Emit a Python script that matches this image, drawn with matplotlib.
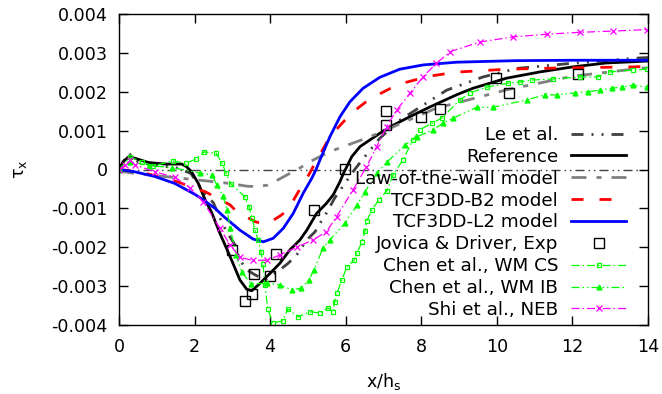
import numpy as np
import matplotlib
matplotlib.use("Agg")
import matplotlib.pyplot as plt

plt.rcParams["font.family"] = ["DejaVu Sans"]
plt.rcParams["axes.unicode_minus"] = False
plt.rcParams["lines.scale_dashes"] = False

SCALE = 1e-3  # stress values below are listed in units of 1e-3

# Le et al.
le_x = [0, 0.25, 0.5, 1.0, 1.5, 1.9, 2.23, 2.5, 2.67, 2.85, 3.07, 3.2, 3.38, 3.6, 3.86, 4.26,
        4.48, 4.7, 4.97, 5.19, 5.33, 5.49, 5.71, 5.95, 6.19, 6.43, 6.9, 7.4, 8.17, 8.67, 9.63,
        10.53, 11.85, 13.78, 14.0]
le_y = [0, 0.42, 0.2, 0.1, 0.05, -0.1, -0.57, -0.86, -1.25, -1.6, -1.94, -2.33, -2.58, -2.71,
        -2.84, -2.58, -2.41, -2.2, -1.81, -1.6, -1.37, -1.12, -0.73, -0.4, -0.06, 0.24, 0.8,
        1.25, 1.73, 2.04, 2.38, 2.6, 2.72, 2.87, 2.88]

# Reference
ref_x = [0, 0.11, 0.26, 0.42, 0.78, 1.22, 1.66, 1.79, 1.92, 2.1, 2.28, 2.45, 2.67, 2.94, 3.2,
         3.38, 3.51, 3.73, 4.0, 4.26, 4.52, 4.79, 4.97, 5.23, 5.49, 5.67, 5.85, 5.94, 6.16, 6.38,
         6.64, 6.9, 7.26, 7.7, 8.23, 8.93, 9.37, 10.26, 11.14, 12.01, 12.9, 14.0]
ref_y = [0, 0.2, 0.33, 0.29, 0.18, 0.14, 0.14, 0.07, -0.06, -0.36, -0.78, -1.1, -1.64, -2.24,
         -2.84, -3.08, -3.12, -2.93, -2.67, -2.41, -2.07, -1.81, -1.56, -1.13, -0.87, -0.65,
         -0.31, -0.1, 0.33, 0.59, 0.76, 0.93, 1.14, 1.36, 1.61, 1.92, 2.09, 2.35, 2.51, 2.64,
         2.74, 2.79]

# Law-of-the-wall model
law_x = [0, 0.4, 1.2, 2.09, 2.85, 3.4, 3.64, 3.94, 4.2, 4.52, 4.79, 5.05, 5.58, 6.64, 7.17,
         8.4, 8.93, 10.26, 12.01, 13.78, 14.0]
law_y = [-0.04, -0.1, -0.18, -0.27, -0.35, -0.43, -0.44, -0.4, -0.27, -0.1, 0.04, 0.2, 0.46,
         0.84, 1.06, 1.58, 1.71, 2.05, 2.4, 2.6, 2.62]

# TCF3DD-B2 model
b2_x = [0, 0.5, 0.87, 1.56, 2.0, 2.28, 2.94, 3.11, 3.6, 3.81, 4.0, 4.3, 4.48, 4.79, 4.92, 5.05,
        5.19, 5.53, 5.66, 5.98, 6.19, 6.59, 6.85, 7.25, 7.51, 8.01, 8.28, 8.76, 9.02, 10.26,
        11.59, 13.6, 14.0]
b2_y = [0, -0.05, -0.14, -0.32, -0.48, -0.57, -0.91, -1.08, -1.34, -1.4, -1.36, -1.17, -1.02,
        -0.5, -0.3, -0.09, 0.17, 0.75, 0.93, 1.27, 1.48, 1.78, 1.92, 2.12, 2.22, 2.35, 2.41,
        2.48, 2.51, 2.58, 2.61, 2.64, 2.65]

# TCF3DD-L2 model
l2_x = [0, 0.42, 0.95, 1.48, 2.01, 2.23, 2.54, 2.76, 3.2, 3.55, 3.82, 4.08, 4.35, 4.61, 4.88,
        5.1, 5.21, 5.32, 5.58, 5.85, 6.11, 6.46, 6.9, 7.43, 8.05, 8.93, 10.5, 12.0, 14.0]
l2_y = [0, -0.06, -0.18, -0.36, -0.64, -0.78, -1.0, -1.2, -1.56, -1.79, -1.86, -1.77, -1.51,
        -1.13, -0.6, -0.23, -0.01, 0.25, 0.84, 1.36, 1.74, 2.09, 2.37, 2.58, 2.69, 2.76, 2.8,
        2.81, 2.81]

# Jovica & Driver, experiment
exp_x = [2.99, 3.33, 3.52, 3.57, 3.99, 4.15, 5.16, 5.98, 7.06, 7.06, 7.99, 8.49, 9.97, 10.32,
         12.14]
exp_y = [-2.07, -3.38, -3.2, -2.69, -2.74, -2.17, -1.04, 0.01, 1.5, 1.14, 1.35, 1.55, 2.35, 1.97,
         2.45]

# Chen et al., WM CS
cs_x = [0, 0.29, 0.6, 0.9, 1.43, 1.77, 2.04, 2.25, 2.57, 2.73, 2.83, 2.96, 3.33, 3.44, 3.52,
        3.6, 3.68, 3.76, 3.81, 3.86, 3.94, 4.07, 4.34, 4.47, 4.74, 5.05, 5.32, 5.53, 5.66, 5.71,
        5.77, 5.9, 6.03, 6.22, 6.3, 6.43, 6.51, 6.56, 6.69, 6.88, 7.09, 7.25, 7.51, 7.78, 7.96,
        8.28, 8.54, 9.02, 9.29, 9.74, 10.29, 10.61, 10.92, 11.48, 12.2, 12.67, 12.99, 13.6, 13.97]
cs_y = [0, 0.32, 0.2, 0.09, 0.22, 0.16, 0.27, 0.45, 0.42, 0.16, -0.09, -0.37, -0.7, -0.96, -1.25,
        -1.56, -1.81, -2.12, -2.43, -2.97, -3.59, -3.95, -3.89, -3.59, -3.79, -3.66, -3.69, -3.56,
        -3.66, -3.41, -3.18, -2.84, -2.51, -2.33, -2.15, -1.86, -1.58, -1.32, -1.04, -0.78, -0.55,
        -0.14, 0.24, 0.76, 1.02, 1.19, 1.32, 1.79, 1.97, 2.12, 2.22, 2.25, 2.3, 2.33, 2.38, 2.38,
        2.51, 2.56, 2.58]

# Chen et al., WM IB
ib_x = [0, 0.3, 0.8, 1.4, 2.14, 2.46, 2.59, 2.75, 2.86, 2.94, 3.1, 3.25, 3.5, 3.92, 4.26, 4.58,
        4.82, 5.03, 5.16, 5.4, 5.58, 5.98, 6.3, 6.51, 6.83, 7.09, 7.57, 7.88, 8.31, 8.57, 8.84,
        9.47, 9.9, 10.79, 11.27, 11.6, 12.06, 12.4, 12.72, 13.04, 13.3, 13.6, 13.97]
ib_y = [0, 0.2, 0.1, 0.05, -0.09, -0.14, -0.4, -0.68, -1.04, -1.5, -2.2, -2.64, -2.95, -2.92,
        -2.97, -3.1, -3.05, -2.84, -2.58, -2.02, -1.81, -1.38, -0.91, -0.57, -0.09, 0.19, 0.63,
        0.84, 1.02, 1.19, 1.32, 1.6, 1.6, 1.79, 1.92, 1.92, 1.97, 2.0, 2.04, 2.09, 2.12, 2.17, 2.12]

# Shi et al., NEB
neb_x = [0, 0.16, 0.29, 0.42, 0.95, 1.48, 1.88, 2.23, 2.67, 2.94, 3.2, 3.55, 3.91, 4.26, 4.7,
         5.14, 5.49, 5.76, 6.19, 6.55, 6.82, 7.08, 7.35, 7.7, 8.05, 8.4, 8.76, 9.55, 10.42,
         11.32, 12.2, 13.07, 13.97]
neb_y = [0, 0.12, 0.24, 0.12, -0.06, -0.2, -0.47, -0.83, -1.51, -1.94, -2.26, -2.34, -2.33,
         -2.2, -2.0, -1.81, -1.6, -1.21, -0.53, 0.07, 0.59, 1.1, 1.53, 1.96, 2.39, 2.73, 3.03,
         3.28, 3.41, 3.48, 3.53, 3.56, 3.6]

x_ticks = [0, 2, 4, 6, 8, 10, 12, 14]
y_ticks = [-0.004, -0.003, -0.002, -0.001, 0, 0.001, 0.002, 0.003, 0.004]
y_tick_labels = ["-0.004", "-0.003", "-0.002", "-0.001", "0", "0.001", "0.002", "0.003", "0.004"]

PX = 72 / 100  # points per pixel at dpi 100


def dash(*px):
    return (0, tuple(p * PX for p in px))


def sy(v):
    return np.asarray(v) * SCALE


fig = plt.figure(figsize=(6.62, 3.94), dpi=100)
ax = fig.add_axes([119 / 662, 1 - 325 / 394, (648 - 119) / 662, (325 - 14) / 394])

# zero axis
ax.axhline(0, color="#404040", lw=1.0, ls=dash(9, 4, 1.5, 4, 1.5, 4), zorder=1)

ax.plot(le_x, sy(le_y), color="#404040", lw=2.0, ls=dash(12, 8, 2, 8, 2, 8), label="Le et al.")
ax.plot(ref_x, sy(ref_y), color="black", lw=2.0, label="Reference")
ax.plot(law_x, sy(law_y), color="#808080", lw=2.0, ls=dash(15, 10, 5, 10),
        label="Law-of-the-wall model")
ax.plot(b2_x, sy(b2_y), color="#ff0000", lw=2.0, ls=dash(12, 16), label="TCF3DD-B2 model")
ax.plot(l2_x, sy(l2_y), color="#0000ff", lw=2.0, label="TCF3DD-L2 model")
ax.plot(exp_x, sy(exp_y), ls="none", marker="s", ms=6.5, mfc="none", mec="black", mew=1.0,
        label="Jovica & Driver, Exp")
ax.plot(cs_x, sy(cs_y), color="#00ff00", lw=0.9, ls=dash(8, 3, 1.5, 3), marker="s", ms=3.5,
        mfc="none", mec="#00ff00", mew=0.9, label="Chen et al., WM CS")
ax.plot(ib_x, sy(ib_y), color="#00ff00", lw=0.9, ls=dash(8, 3, 1.5, 3, 1.5, 3), marker="^",
        ms=3.5, mfc="#00ff00", mec="#00ff00", label="Chen et al., WM IB")
ax.plot(neb_x, sy(neb_y), color="#ff00ff", lw=0.9, ls=dash(8, 3, 1.5, 3), marker="x", ms=4,
        mew=0.9, label="Shi et al., NEB")

ax.set_xlim(0, 14)
ax.set_ylim(-0.004, 0.004)
ax.set_xticks(x_ticks)
ax.set_xticklabels([str(t) for t in x_ticks])
ax.set_yticks(y_ticks)
ax.set_yticklabels(y_tick_labels)
ax.tick_params(direction="in", length=6.5, width=1.0, top=True, right=True, labelsize=12.6)
ax.tick_params(axis="x", pad=9)
ax.tick_params(axis="y", pad=8)
for s in ax.spines.values():
    s.set_linewidth(1.0)

ax.set_xlabel("x/h$_\\mathregular{s}$", fontsize=12.6, labelpad=11)
ax.set_ylabel("τ$_\\mathregular{x}$", fontsize=12.6, labelpad=16)

leg = ax.legend(loc="upper right", bbox_to_anchor=(626 / 662, 1 - 126 / 394),
                bbox_transform=fig.transFigure, frameon=False, markerfirst=False,
                fontsize=13.2, handlelength=3.0, handletextpad=0.7, labelspacing=0.21,
                borderpad=0, borderaxespad=0)

fig.savefig("out.png", dpi=100)
